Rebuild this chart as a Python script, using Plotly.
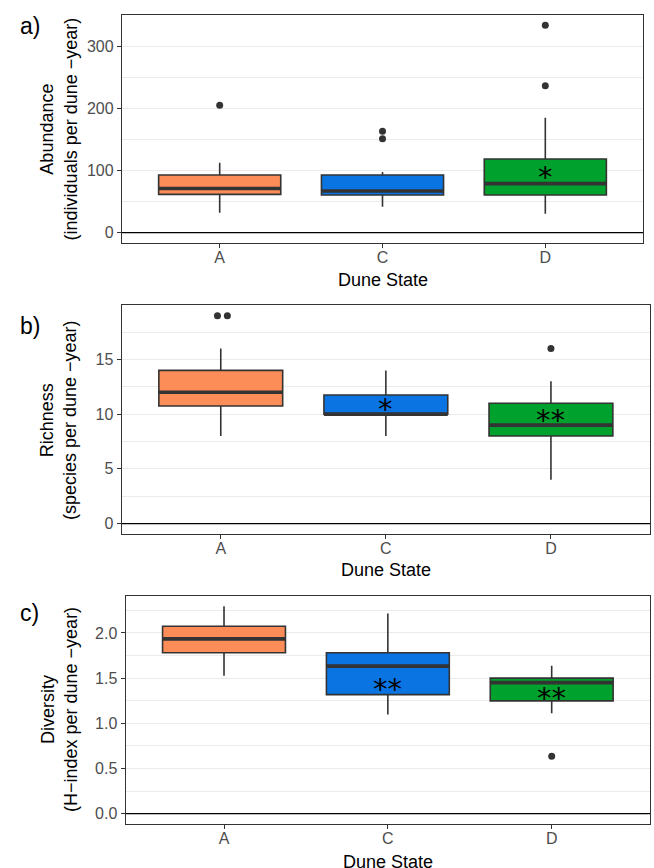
import plotly.graph_objects as go

# ---------------- data ----------------
categories = ["A", "C", "D"]
colors = ["#FC8D59", "#0A74E2", "#00A12C"]

# a) Abundance
abund_low = [32, 41.8, 30.5]
abund_q1 = [61.6, 60.5, 60.5]
abund_median = [71, 67, 78.8]
abund_q3 = [92.6, 92.6, 118.4]
abund_high = [112.5, 97.5, 184.8]
abund_outliers = [[204.7], [163, 151], [236.3, 333.3]]
abund_sig = ["", "", "*"]
abund_sig_y = [None, None, 98]

# b) Richness
rich_low = [8, 8, 4]
rich_q1 = [10.75, 10, 8]
rich_median = [12, 10, 9]
rich_q3 = [14, 11.75, 11]
rich_high = [16, 14, 13]
rich_outliers = [[19, 19], [], [16]]
rich_sig = ["", "*", "**"]
rich_sig_y = [None, 10.9, 9.9]

# c) Diversity
div_low = [1.527, 1.097, 1.112]
div_q1 = [1.78, 1.317, 1.248]
div_median = [1.934, 1.633, 1.45]
div_q3 = [2.074, 1.78, 1.50]
div_high = [2.294, 2.214, 1.637]
div_outliers = [[], [], [0.634]]
div_sig = ["", "**", "**"]
div_sig_y = [None, 1.435, 1.333]

panels = [
    dict(letter="a)", title1="Abundance", title2="(individuals per dune \u2212year)",
         low=abund_low, q1=abund_q1, med=abund_median, q3=abund_q3, high=abund_high,
         out=abund_outliers, sig=abund_sig, sig_y=abund_sig_y, dtick=100, minor=50),
    dict(letter="b)", title1="Richness", title2="(species per dune \u2212year)",
         low=rich_low, q1=rich_q1, med=rich_median, q3=rich_q3, high=rich_high,
         out=rich_outliers, sig=rich_sig, sig_y=rich_sig_y, dtick=5, minor=2.5),
    dict(letter="c)", title1="Diversity", title2="(H\u2212index per dune \u2212year)",
         low=div_low, q1=div_q1, med=div_median, q3=div_q3, high=div_high,
         out=div_outliers, sig=div_sig, sig_y=div_sig_y, dtick=0.5, minor=0.25),
]

# ---------------- layout constants (pixels) ----------------
W, H = 654, 868
# left, right, top, bottom of each panel
boxes_px = [(122, 643, 15, 243), (121.7, 650, 305.3, 534), (125.7, 650, 596, 824)]
letter_y = [26, 326, 613]
xtitle_y = [280, 570, 862]
ytitle_x = [58.4, 58.4, 59]
tickfmt = ["", "", ".1f"]

FONT = "Liberation Sans"
DARK = "#333333"
GRID = "#EBEBEB"
BOX_W = 0.75

fig = go.Figure()
layout = dict(
    width=W, height=H, margin=dict(l=0, r=0, t=0, b=0),
    paper_bgcolor="white", plot_bgcolor="white",
    showlegend=False, boxmode="overlay",
    font=dict(family=FONT, size=16, color="black"),
)
annotations = []
shapes = []

for i, p in enumerate(panels):
    n = i + 1
    xa = "x" if n == 1 else f"x{n}"
    ya = "y" if n == 1 else f"y{n}"
    xkey = "xaxis" if n == 1 else f"xaxis{n}"
    ykey = "yaxis" if n == 1 else f"yaxis{n}"
    l, r, t, b = boxes_px[i]

    xs = list(range(1, len(categories) + 1))
    for j, cat in enumerate(categories):
        fig.add_trace(go.Box(
            x=[xs[j]], q1=[p["q1"][j]], median=[p["med"][j]], q3=[p["q3"][j]],
            lowerfence=[p["low"][j]], upperfence=[p["high"][j]],
            width=BOX_W, fillcolor=colors[j], boxpoints=False,
            line=dict(color=DARK, width=1.6), whiskerwidth=0,
            xaxis=xa, yaxis=ya, hoverinfo="skip",
        ))
        # thick median line
        fig.add_trace(go.Scatter(
            x=[xs[j] - BOX_W / 2, xs[j] + BOX_W / 2], y=[p["med"][j]] * 2,
            mode="lines", line=dict(color=DARK, width=3.6),
            xaxis=xa, yaxis=ya, hoverinfo="skip",
        ))
        # outliers (dodge exact duplicates slightly)
        outs = p["out"][j]
        if outs:
            ox = []
            cnt = {}
            for v in outs:
                tot = outs.count(v)
                c = cnt.get(v, 0)
                cnt[v] = c + 1
                off = (c - (tot - 1) / 2) * 0.06 + 0.01 if tot > 1 else 0
                ox.append(xs[j] + off)
            fig.add_trace(go.Scatter(
                x=ox, y=outs, mode="markers",
                marker=dict(color=DARK, size=7),
                xaxis=xa, yaxis=ya, hoverinfo="skip",
            ))
        if p["sig"][j]:
            annotations.append(dict(
                x=xs[j], y=p["sig_y"][j], xref=xa, yref=ya, text=p["sig"][j],
                showarrow=False, font=dict(family="DejaVu Sans", size=29, color="black"),
                xanchor="center", yanchor="middle", yshift=-5,
            ))

    allvals = [0] + p["low"] + p["high"] + [v for o in p["out"] for v in o]
    lo, hi = min(allvals), max(allvals)
    pad = (hi - lo) * 0.05

    layout[xkey] = dict(
        domain=[l / W, r / W], anchor=ya, range=[0.4, 3.6],
        tickmode="array", tickvals=xs, ticktext=categories,
        showgrid=False, zeroline=False,
        showline=True, mirror=True, linecolor=DARK, linewidth=1.3,
        ticks="outside", ticklen=4, tickwidth=1.2, tickcolor=DARK,
        ticklabelstandoff=-4,
        tickfont=dict(family=FONT, size=16, color="#4D4D4D"),
    )
    layout[ykey] = dict(
        domain=[1 - b / H, 1 - t / H], anchor=xa, range=[lo - pad, hi + pad],
        dtick=p["dtick"], tick0=0, tickformat=tickfmt[i],
        showgrid=True, gridcolor=GRID, gridwidth=1.3,
        minor=dict(dtick=p["minor"], tick0=0, showgrid=True, gridcolor=GRID, gridwidth=0.7, ticks=""),
        zeroline=False,
        showline=True, mirror=True, linecolor=DARK, linewidth=1.3,
        ticks="outside", ticklen=4, tickwidth=1.2, tickcolor=DARK,
        tickfont=dict(family=FONT, size=16, color="#4D4D4D"),
    )
    # horizontal line at zero
    shapes.append(dict(type="line", xref=f"{xa} domain", yref=ya, x0=0, x1=1, y0=0, y1=0,
                       line=dict(color="black", width=1.1), layer="above"))

    # panel letter
    annotations.append(dict(x=18 / W, y=1 - letter_y[i] / H, xref="paper", yref="paper",
                            text=p["letter"], showarrow=False, xanchor="left", yanchor="middle",
                            font=dict(family=FONT, size=23, color="black")))
    # x title
    annotations.append(dict(x=(l + r) / 2 / W, y=1 - xtitle_y[i] / H, xref="paper", yref="paper",
                            text="Dune State", showarrow=False, xanchor="center", yanchor="middle",
                            font=dict(family=FONT, size=18, color="black")))
    # y title
    annotations.append(dict(x=ytitle_x[i] / W, y=1 - (t + b) / 2 / H, xref="paper", yref="paper",
                            text=p["title1"] + "<br>" + p["title2"], showarrow=False, textangle=-90,
                            xanchor="center", yanchor="middle",
                            font=dict(family=FONT, size=18, color="black")))

layout["annotations"] = annotations
layout["shapes"] = shapes
fig.update_layout(**layout)
fig.write_html("out.html")
